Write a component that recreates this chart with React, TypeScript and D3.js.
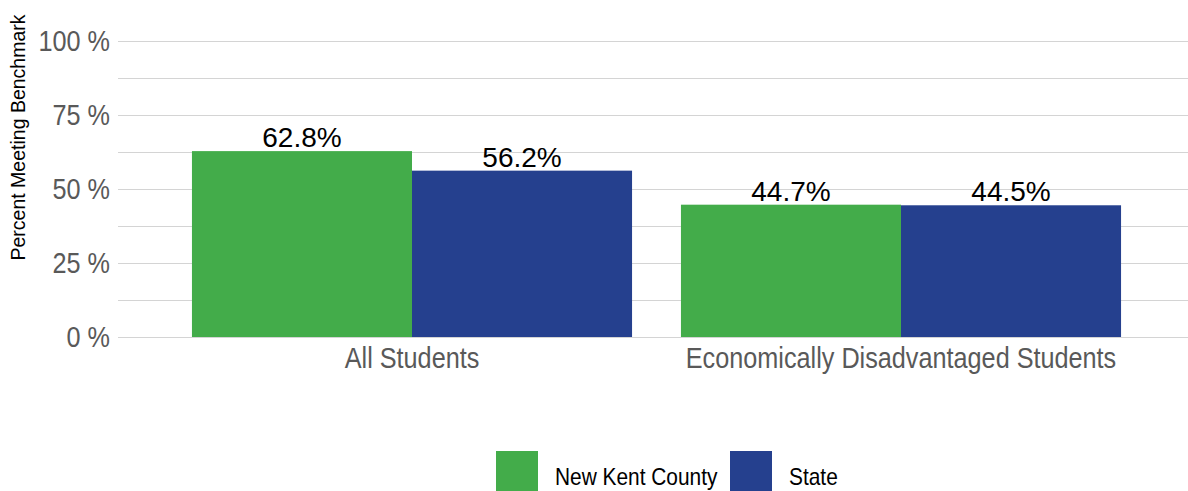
import React, { useEffect, useRef } from 'react';
import * as d3 from 'd3';

const categories = ['All Students', 'Economically Disadvantaged Students'];
const seriesNames = ['New Kent County', 'State'];
const countyValues = [62.8, 44.7];
const stateValues = [56.2, 44.5];
const yTicks = [0, 25, 50, 75, 100];
const gridTicks = [0, 12.5, 25, 37.5, 50, 62.5, 75, 87.5, 100];
const colors = ['#43ac4a', '#25408e'];

const W = 1188;
const H = 491;
const font = '"Liberation Sans", Arial, sans-serif';
// the original uses a condensed face; squeeze regular Arial metrics horizontally
const narrowScale = 0.87;

const App: React.FC = () => {
    const svgRef = useRef<SVGSVGElement>(null);

    useEffect(() => {
        if (!svgRef.current) return;
        const svg = d3.select(svgRef.current);
        svg.selectAll('*').remove();

        const gridLeft = 118;
        const gridRight = W;

        const y = d3.scaleLinear().domain([0, 100]).range([337, 41]);

        const x0 = d3.scaleBand<string>()
            .domain(categories)
            .range([167.5, 1145.5])
            .paddingInner(0.1)
            .paddingOuter(0.05);

        const x1 = d3.scaleBand<string>()
            .domain(seriesNames)
            .range([0, x0.bandwidth()]);

        // gridlines
        svg.append('g')
            .selectAll('line')
            .data(gridTicks)
            .join('line')
            .attr('x1', gridLeft)
            .attr('x2', gridRight)
            .attr('y1', d => y(d) + 0.5)
            .attr('y2', d => y(d) + 0.5)
            .attr('stroke', '#d4d4d4')
            .attr('stroke-width', 1);

        // y tick labels
        svg.append('g')
            .selectAll('text')
            .data(yTicks)
            .join('text')
            .attr('transform', d => `translate(110,${y(d) + 10}) scale(${narrowScale},1)`)
            .attr('text-anchor', 'end')
            .attr('font-family', font)
            .attr('font-size', 29)
            .attr('fill', '#595959')
            .text(d => `${d} %`);

        // y axis title
        svg.append('text')
            .attr('transform', `translate(24.5,137.5) rotate(-90)`)
            .attr('text-anchor', 'middle')
            .attr('font-family', font)
            .attr('font-size', 19.5)
            .attr('fill', '#000')
            .text('Percent Meeting Benchmark');

        const rows = categories.map((c, i) => ({
            cat: c,
            vals: [countyValues[i], stateValues[i]],
        }));

        const groups = svg.append('g')
            .selectAll('g')
            .data(rows)
            .join('g')
            .attr('transform', d => `translate(${x0(d.cat)},0)`);

        groups.selectAll('rect')
            .data(d => d.vals.map((v, j) => ({ v, s: seriesNames[j], j })))
            .join('rect')
            .attr('x', d => x1(d.s) as number)
            .attr('width', x1.bandwidth())
            .attr('y', d => y(d.v))
            .attr('height', d => y(0) - y(d.v))
            .attr('fill', d => colors[d.j]);

        groups.selectAll('text')
            .data(d => d.vals.map((v, j) => ({ v, s: seriesNames[j] })))
            .join('text')
            .attr('x', d => (x1(d.s) as number) + x1.bandwidth() / 2)
            .attr('y', d => y(d.v) - 4)
            .attr('text-anchor', 'middle')
            .attr('font-family', font)
            .attr('font-size', 28)
            .attr('fill', '#000')
            .text(d => `${d.v.toFixed(1)}%`);

        // category labels
        svg.append('g')
            .selectAll('text')
            .data(categories)
            .join('text')
            .attr('transform', d => `translate(${(x0(d) as number) + x0.bandwidth() / 2},368) scale(${narrowScale},1)`)
            .attr('text-anchor', 'middle')
            .attr('font-family', font)
            .attr('font-size', 29)
            .attr('fill', '#595959')
            .text(d => d);

        // legend
        const legendX = [496, 730];
        const legend = svg.append('g')
            .selectAll('g')
            .data(seriesNames)
            .join('g')
            .attr('transform', (_, i) => `translate(${legendX[i]},451)`);

        legend.append('rect')
            .attr('width', 42)
            .attr('height', 40)
            .attr('fill', (_, i) => colors[i]);

        legend.append('text')
            .attr('transform', `translate(59,34) scale(${narrowScale},1)`)
            .attr('font-family', font)
            .attr('font-size', 24)
            .attr('fill', '#000')
            .text(d => d);
    }, []);

    return (
        <svg
            ref={svgRef}
            width={W}
            height={H}
            style={{ position: 'absolute', left: 0, top: 0, display: 'block', background: '#fff' }}
        />
    );
};

export default App;
